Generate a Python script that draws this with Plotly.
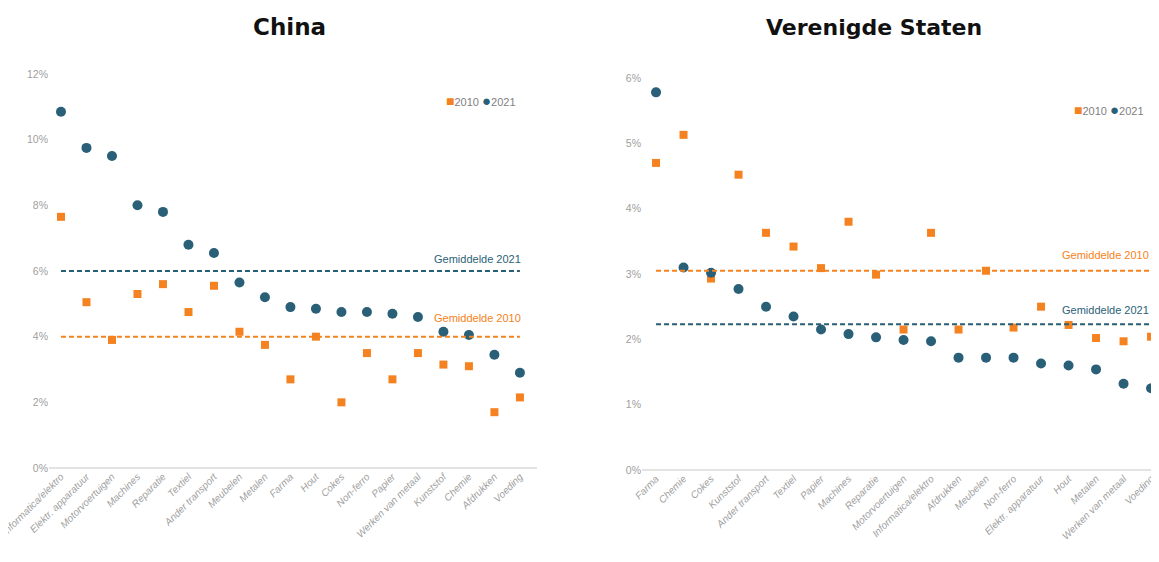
import plotly.graph_objects as go

# ---------------- DATA ----------------
china_cats = ["Informatica/elektro", "Elektr. apparatuur", "Motorvoertuigen", "Machines",
              "Reparatie", "Textiel", "Ander transport", "Meubelen", "Metalen", "Farma",
              "Hout", "Cokes", "Non-ferro", "Papier", "Werken van metaal", "Kunststof",
              "Chemie", "Afdrukken", "Voeding"]
china_2010 = [7.65, 5.05, 3.9, 5.3, 5.6, 4.75, 5.55, 4.15, 3.75, 2.7,
              4.0, 2.0, 3.5, 2.7, 3.5, 3.15, 3.1, 1.7, 2.15]
china_2021 = [10.85, 9.75, 9.5, 8.0, 7.8, 6.8, 6.55, 5.65, 5.2, 4.9,
              4.85, 4.75, 4.75, 4.7, 4.6, 4.15, 4.05, 3.45, 2.9]
china_avg_2010 = 4.0
china_avg_2021 = 6.0

us_cats = ["Farma", "Chemie", "Cokes", "Kunststof", "Ander transport", "Textiel", "Papier",
           "Machines", "Reparatie", "Motorvoertuigen", "Informatica/elektro", "Afdrukken",
           "Meubelen", "Non-ferro", "Elektr. apparatuur", "Hout", "Metalen",
           "Werken van metaal", "Voeding"]
us_2010 = [4.7, 5.13, 2.93, 4.52, 3.63, 3.42, 3.09, 3.8, 2.99, 2.15,
           3.63, 2.15, 3.05, 2.18, 2.5, 2.22, 2.02, 1.97, 2.04]
us_2021 = [5.78, 3.1, 3.02, 2.77, 2.5, 2.35, 2.15, 2.08, 2.03, 1.99,
           1.97, 1.72, 1.72, 1.72, 1.63, 1.6, 1.54, 1.32, 1.25]
us_avg_2010 = 3.05
us_avg_2021 = 2.23

titles = ["China", "Verenigde Staten"]
series_names = ["2010", "2021"]
avg_label_2010 = "Gemiddelde 2010"
avg_label_2021 = "Gemiddelde 2021"

# ---------------- STYLE ----------------
ORANGE = "#F58220"
TEAL = "#2A5F78"
GREY = "#A0A0A0"
TICKFONT = "Liberation Sans Narrow, Liberation Sans, Arial Narrow, sans-serif"
W, H = 1159, 562
OFF = 8  # page body margin offset


def fx(px):
    return (px - OFF) / W


def fy(py):
    return 1 - (py - OFF) / H


fig = go.Figure()


def pct(vals):
    return [v / 100 for v in vals]


def add_panel(cats, v2010, v2021, a2010, a2021, xa, ya):
    fig.add_trace(go.Scatter(
        x=cats, y=pct(v2010), mode="markers", name=series_names[0],
        marker=dict(symbol="square", size=8, color=ORANGE),
        xaxis=xa, yaxis=ya, showlegend=False))
    fig.add_trace(go.Scatter(
        x=cats, y=pct(v2021), mode="markers", name=series_names[1],
        marker=dict(symbol="circle", size=10, color=TEAL),
        xaxis=xa, yaxis=ya, showlegend=False))
    fig.add_trace(go.Scatter(
        x=[cats[0], cats[-1]], y=pct([a2010, a2010]), mode="lines",
        line=dict(color=ORANGE, width=2, dash="5px,3px"),
        xaxis=xa, yaxis=ya, showlegend=False, hoverinfo="skip"))
    fig.add_trace(go.Scatter(
        x=[cats[0], cats[-1]], y=pct([a2021, a2021]), mode="lines",
        line=dict(color=TEAL, width=2, dash="5px,3px"),
        xaxis=xa, yaxis=ya, showlegend=False, hoverinfo="skip"))


add_panel(china_cats, china_2010, china_2021, china_avg_2010, china_avg_2021, "x", "y")
add_panel(us_cats, us_2010, us_2021, us_avg_2010, us_avg_2021, "x2", "y2")

xcommon = dict(type="category", showgrid=False, zeroline=False, showline=False,
               ticks="", tickangle=-45, automargin=False,
               tickfont=dict(family=TICKFONT, size=10, color=GREY, style="italic"))
ycommon = dict(showgrid=False, showline=False, ticks="", tickformat=".0%",
               zeroline=True, zerolinecolor="#E3E3E3", zerolinewidth=2, automargin=False,
               tickfont=dict(family=TICKFONT, size=10.5, color=GREY))

fig.update_layout(
    width=W, height=H,
    margin=dict(l=0, r=0, t=0, b=0),
    paper_bgcolor="white", plot_bgcolor="white",
    xaxis=dict(domain=[fx(49), fx(537)], range=[-0.47, 18.67], anchor="y", **xcommon),
    yaxis=dict(domain=[fy(468), fy(74)], range=[0, 0.12], dtick=0.02, anchor="x", **ycommon),
    xaxis2=dict(domain=[fx(642), 1.0], range=[-0.51, 18.58], anchor="y2", **xcommon),
    yaxis2=dict(domain=[fy(470), fy(78)], range=[0, 0.06], dtick=0.01, anchor="x2", **ycommon),
    showlegend=False,
)

# legends (compact key, as in the reference)
LEGFONT = dict(family=TICKFONT, size=11, color="#7F7F7F")
legend_text = (f"<span style='color:{ORANGE};font-size:14px'>■</span>{series_names[0]} "
               f"<span style='color:{TEAL};font-size:15px'>●</span>{series_names[1]}")
fig.add_annotation(text=legend_text, xref="paper", yref="paper", x=fx(518), y=fy(101),
                   xanchor="right", yanchor="middle", showarrow=False, font=LEGFONT)
fig.add_annotation(text=legend_text, xref="paper", yref="paper", x=fx(1146), y=fy(109),
                   xanchor="right", yanchor="middle", showarrow=False, font=LEGFONT)

# titles
fig.add_annotation(text="<b>" + titles[0] + "</b>", xref="paper", yref="paper",
                   x=fx(289), y=fy(27), xanchor="center", yanchor="middle", showarrow=False,
                   font=dict(family="DejaVu Sans", size=23, color="#111111"))
fig.add_annotation(text="<b>" + titles[1] + "</b>", xref="paper", yref="paper",
                   x=fx(874), y=fy(27), xanchor="center", yanchor="middle", showarrow=False,
                   font=dict(family="DejaVu Sans", size=22, color="#111111"))

# average labels
AVGFONT = "Liberation Sans Narrow, Liberation Sans, sans-serif"
fig.add_annotation(text=avg_label_2021, x=china_cats[-1], y=china_avg_2021 / 100, xref="x", yref="y",
                   xanchor="right", yanchor="bottom", yshift=4, xshift=3, showarrow=False,
                   font=dict(family=AVGFONT, size=11, color=TEAL))
fig.add_annotation(text=avg_label_2010, x=china_cats[-1], y=china_avg_2010 / 100, xref="x", yref="y",
                   xanchor="right", yanchor="bottom", yshift=11, xshift=3, showarrow=False,
                   font=dict(family=AVGFONT, size=11, color=ORANGE))
fig.add_annotation(text=avg_label_2010, x=us_cats[-1], y=us_avg_2010 / 100, xref="x2", yref="y2",
                   xanchor="right", yanchor="bottom", yshift=8, xshift=0, showarrow=False,
                   font=dict(family=AVGFONT, size=11, color=ORANGE))
fig.add_annotation(text=avg_label_2021, x=us_cats[-1], y=us_avg_2021 / 100, xref="x2", yref="y2",
                   xanchor="right", yanchor="bottom", yshift=6, xshift=0, showarrow=False,
                   font=dict(family=AVGFONT, size=11, color=TEAL))

fig.write_html("out.html")
